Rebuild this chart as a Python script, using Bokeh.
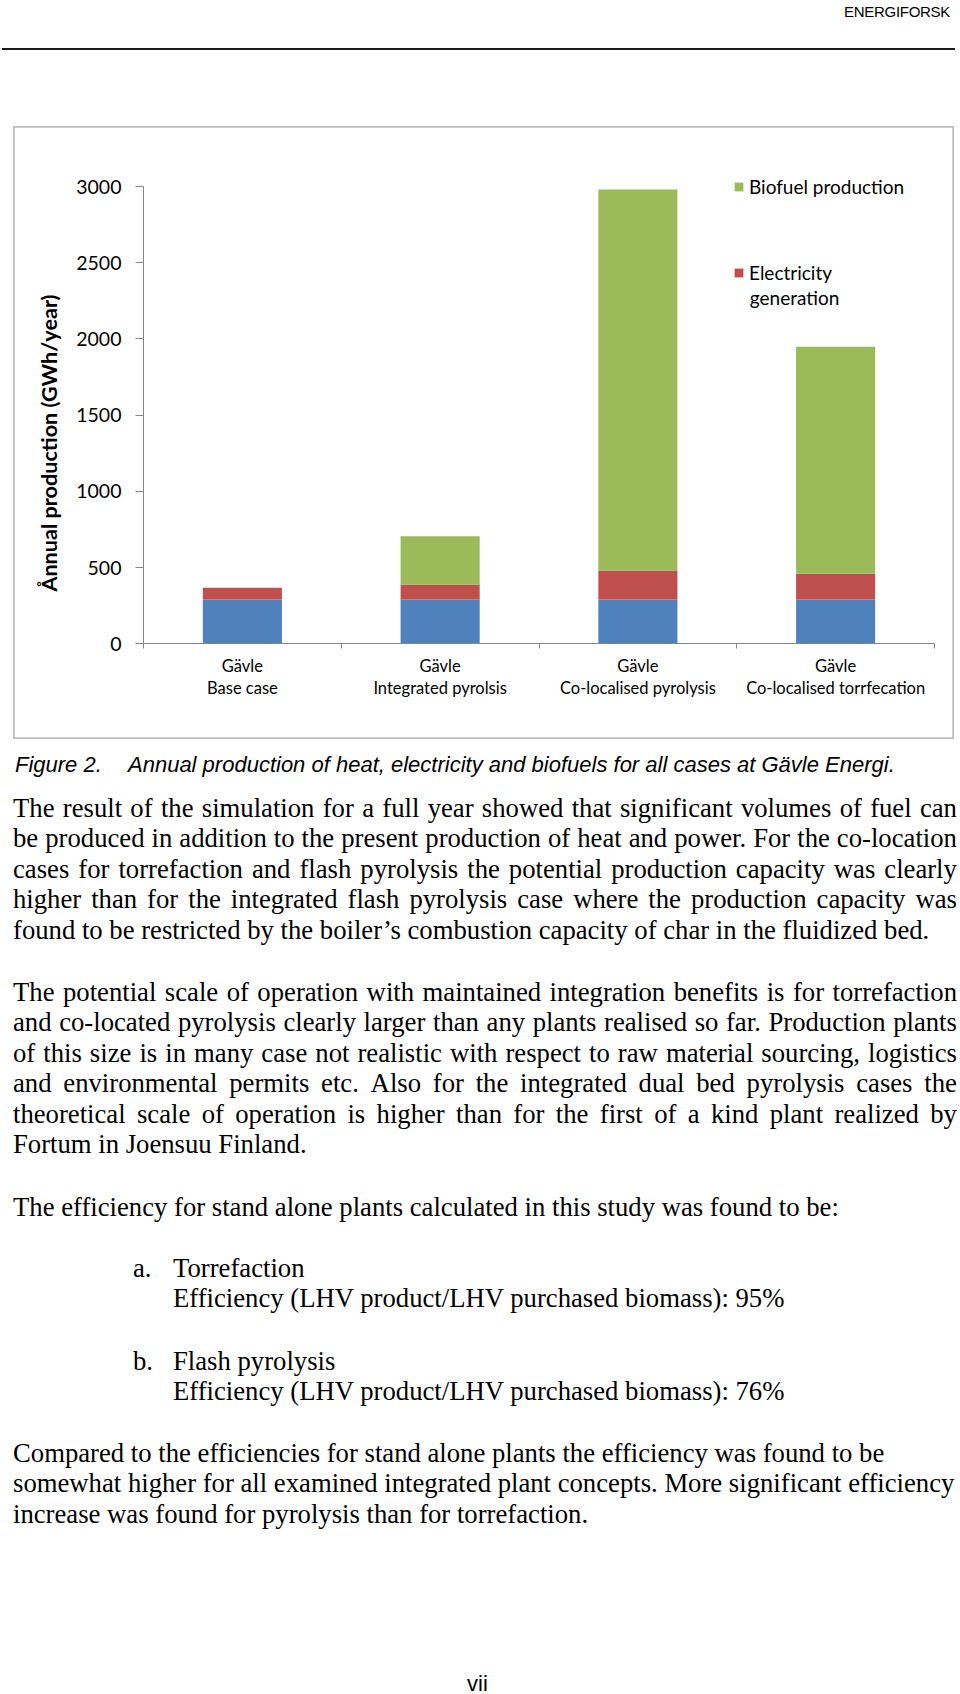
import math
from bokeh.plotting import figure
from bokeh.models import (ColumnDataSource, Range1d, LinearAxis, FixedTicker, Legend, LegendItem,
                          Label, Div)
from bokeh.layouts import column
from bokeh.embed import file_html
from bokeh.resources import INLINE

# ---------------- data ----------------
categories = ["Gävle\nBase case", "Gävle\nIntegrated pyrolsis",
              "Gävle\nCo-localised pyrolysis", "Gävle\nCo-localised torrfecation"]
heat = [290, 290, 290, 290]
electricity = [77, 99, 191, 169]
biofuel = [0, 317, 2500, 1490]
y_ticks = [0, 500, 1000, 1500, 2000, 2500, 3000]
stack_keys = ["heat", "electricity", "biofuel"]
legend_biofuel = "Biofuel production"
legend_electricity = ["Electricity", "generation"]
y_label = "Ånnual production (GWh/year)"

header_text = "ENERGIFORSK"
caption_label = "Figure 2."
caption_text = "Annual production of heat, electricity and biofuels for all cases at Gävle Energi."
para1 = ["The result of the simulation for a full year showed that significant volumes of fuel can",
         "be produced in addition to the present production of heat and power. For the co-location",
         "cases for torrefaction and flash pyrolysis the potential production capacity was clearly",
         "higher than for the integrated flash pyrolysis case where the production capacity was",
         "found to be restricted by the boiler’s combustion capacity of char in the fluidized bed."]
para2 = ["The potential scale of operation with maintained integration benefits is for torrefaction",
         "and co-located pyrolysis clearly larger than any plants realised so far. Production plants",
         "of this size is in many case not realistic with respect to raw material sourcing, logistics",
         "and environmental permits etc. Also for the integrated dual bed pyrolysis cases the",
         "theoretical scale of operation is higher than for the first of a kind plant realized by",
         "Fortum in Joensuu Finland."]
para3 = "The efficiency for stand alone plants calculated in this study was found to be:"
list_items = [("a.", "Torrefaction", "Efficiency (LHV product/LHV purchased biomass): 95%"),
              ("b.", "Flash pyrolysis", "Efficiency (LHV product/LHV purchased biomass): 76%")]
para4 = ["Compared to the efficiencies for stand alone plants the efficiency was found to be",
         "somewhat higher for all examined integrated plant concepts. More significant efficiency",
         "increase was found for pyrolysis than for torrefaction."]
page_number = "vii"

# ---------------- styles ----------------
colors = ["#4f81bd", "#c0504d", "#9bbb59"]
axis_gray = "#868686"
CHART_FONT = "Lato"
SERIF = "'Liberation Serif','Times New Roman',serif"
SANS = "'Liberation Sans',Arial,sans-serif"

# ---------------- header ----------------
header_html = f"""
<div style="position:relative;width:960px;height:126px;">
  <div style="position:absolute;right:10px;top:1.5px;font-family:{SANS};font-size:15px;
       line-height:20px;color:#000;letter-spacing:-0.3px;">{header_text}</div>
  <div style="position:absolute;left:2px;top:47.6px;width:953px;height:2px;background:#1a1a1a;"></div>
</div>"""
header = Div(text=header_html, width=960, height=126, margin=0)

# ---------------- chart ----------------
n = len(categories)
centers = [i + 0.5 for i in range(n)]          # slot centre of each category
source = ColumnDataSource(dict(x=centers, heat=heat, electricity=electricity, biofuel=biofuel))

# the frame is the whole chart box; axes are drawn at fixed data locations inside it
p = figure(x_range=Range1d(-0.6574, 4.1011), y_range=Range1d(-627.8, 3393.7),
           width=941, height=613, output_backend="svg", toolbar_location=None,
           x_axis_location=None, min_border=0, title=None,
           outline_line_color="#bdbdbd", outline_line_width=2.5,
           margin=(0, 0, 7, 13))
p.xgrid.visible = False
p.ygrid.visible = False

renderers = p.vbar_stack(stack_keys, x="x", width=0.4, fill_color=colors,
                         line_color=None, source=source)

# y axis
yax = p.yaxis[0]
yax.fixed_location = 0
yax.bounds = (y_ticks[0], y_ticks[-1])
yax.ticker = FixedTicker(ticks=y_ticks)
yax.axis_line_color = axis_gray
yax.major_tick_line_color = axis_gray
yax.major_tick_out = 8
yax.major_tick_in = 0
yax.minor_tick_line_color = None
yax.major_label_standoff = 14
yax.major_label_text_font = CHART_FONT
yax.major_label_text_font_size = "19.5px"
yax.major_label_text_color = "#000000"

# x axis: tick marks at category boundaries
tick_axis = LinearAxis(fixed_location=0, bounds=(0, n),
                       ticker=FixedTicker(ticks=list(range(n + 1))),
                       axis_line_color=axis_gray, major_tick_line_color=axis_gray,
                       major_tick_out=5, major_tick_in=0, minor_tick_line_color=None,
                       major_label_text_font_size="1px", major_label_text_color=None,
                       major_label_standoff=0)
p.add_layout(tick_axis, "below")
# x axis: category names at slot centres
cat_axis = LinearAxis(fixed_location=0, bounds=(0, n), ticker=FixedTicker(ticks=centers),
                      major_label_overrides={c: lab for c, lab in zip(centers, categories)},
                      axis_line_color=None, major_tick_line_color=None,
                      major_tick_out=0, major_tick_in=0, minor_tick_line_color=None,
                      major_label_standoff=12, major_label_text_font=CHART_FONT,
                      major_label_text_font_size="16.5px",
                      major_label_text_color="#000000",
                      major_label_text_line_height=1.1)
p.add_layout(cat_axis, "below")

# y axis title
p.add_layout(Label(x=-0.4804, y=1317, text=y_label, angle=math.pi / 2,
                   text_align="center", text_baseline="middle",
                   text_font=CHART_FONT, text_font_style="bold",
                   text_font_size="21.6px", text_color="#000000"))

legend = Legend(items=[LegendItem(label=legend_biofuel, renderers=[renderers[2]]),
                       LegendItem(label=legend_electricity[0], renderers=[renderers[1]])],
                location=(720, 455), glyph_width=11, glyph_height=11, label_standoff=5,
                padding=0, margin=0, spacing=63, border_line_color=None,
                background_fill_alpha=0, label_text_font=CHART_FONT,
                label_text_font_size="19px", label_text_color="#000000")
p.add_layout(legend)
p.add_layout(Label(x=3.066, y=2274, text=legend_electricity[1], text_align="left",
                   text_baseline="middle", text_font=CHART_FONT,
                   text_font_size="19px", text_color="#000000"))

# ---------------- body text ----------------
PITCH = 30.4


def line_div(text, baseline, left=13, justify=False):
    top = baseline - 24
    style = (f"position:absolute;left:{left}px;top:{top:.1f}px;height:30px;"
             f"line-height:30px;white-space:nowrap;")
    if justify:
        spans = "".join(f"<span>{w}</span>" for w in text.split(" "))
        return (f'<div style="{style}width:944px;display:flex;'
                f'justify-content:space-between;">{spans}</div>')
    return f'<div style="{style}">{text}</div>'


parts = []
cap_style = (f"position:absolute;top:4.4px;height:30px;line-height:30px;white-space:nowrap;"
             f"font-family:{SANS};font-style:italic;font-size:22px;")
parts.append(f'<div style="{cap_style}left:15px;">{caption_label}</div>')
parts.append(f'<div style="{cap_style}left:128px;">{caption_text}</div>')

b = 71
for i, t in enumerate(para1):
    parts.append(line_div(t, b + i * PITCH, justify=(i < len(para1) - 1)))
b = 255
for i, t in enumerate(para2):
    parts.append(line_div(t, b + i * PITCH, justify=(i < len(para2) - 1)))
parts.append(line_div(para3, 470))
for j, (mark, head, eff) in enumerate(list_items):
    bb = 530.7 + j * 93.3
    parts.append(line_div(mark, bb, left=133))
    parts.append(line_div(head, bb, left=173))
    parts.append(line_div(eff, bb + PITCH, left=173))
b = 715.7
for i, t in enumerate(para4):
    parts.append(line_div(t, b + i * PITCH))
parts.append(f'<div style="position:absolute;left:467px;top:928px;height:20px;line-height:20px;'
             f'font-family:{SANS};font-size:22px;">{page_number}</div>')

body_html = (f'<div style="position:relative;width:960px;height:948px;font-family:{SERIF};'
             f'font-size:26.7px;color:#000;">' + "".join(parts) + "</div>")
body = Div(text=body_html, width=960, height=948, margin=0)

layout = column(header, p, body, spacing=0, margin=0)

with open("out.html", "w") as f:
    f.write(file_html(layout, INLINE))
